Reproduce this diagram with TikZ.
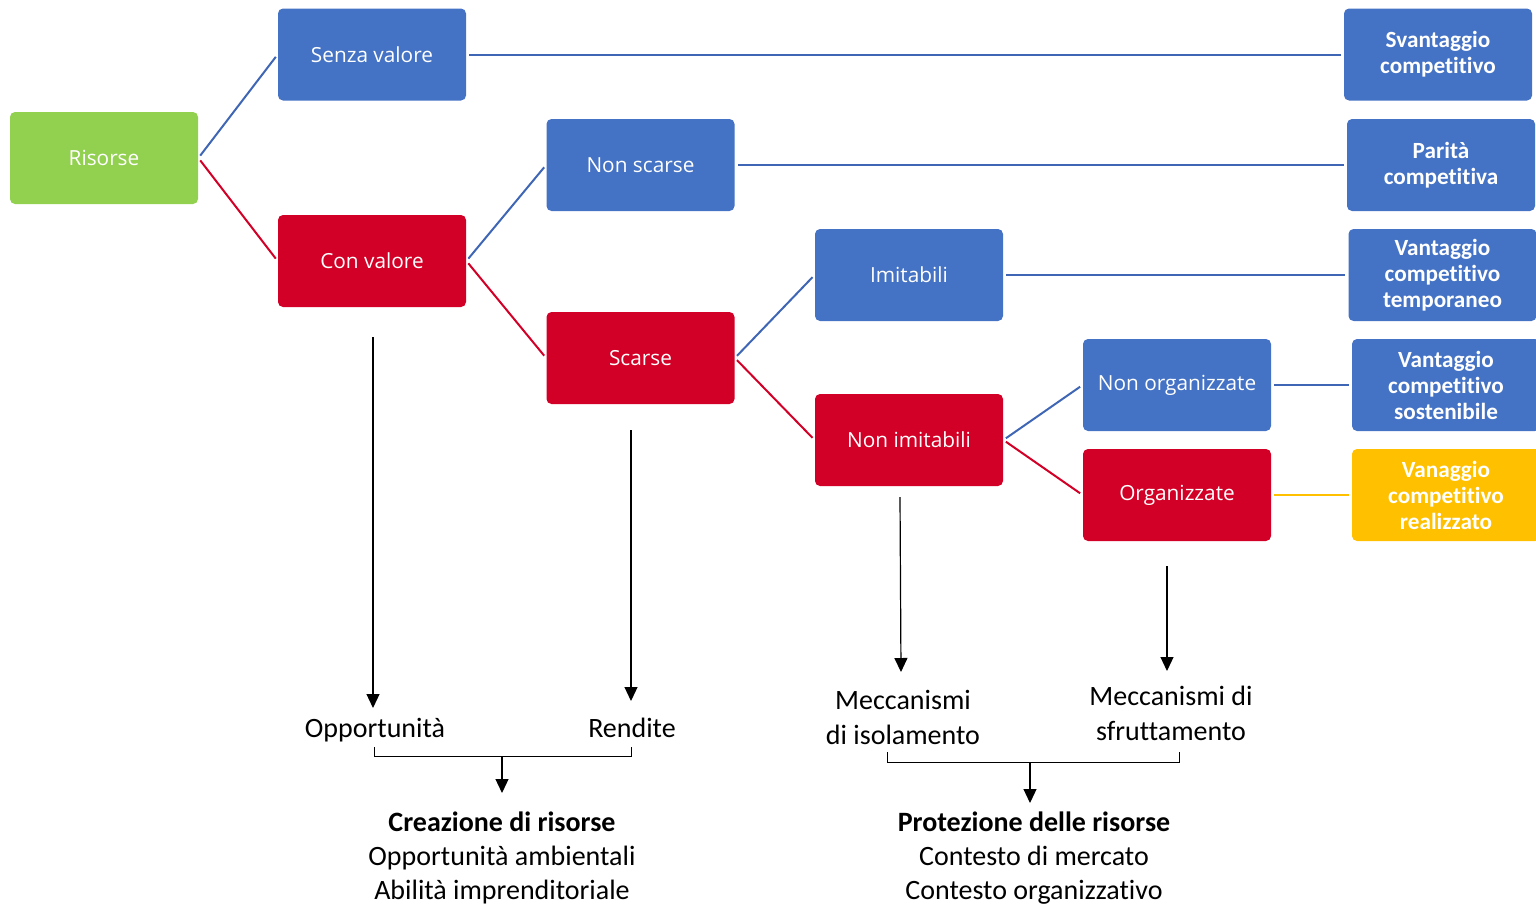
\documentclass[tikz,border=0pt]{standalone}
\usepackage{fontspec}
\setmainfont{Carlito}[Ligatures=NoCommon]
\newfontfamily\boxfont{Open Sans}
\usetikzlibrary{arrows.meta}
\definecolor{boxblue}{HTML}{4472C4}
\definecolor{boxred}{HTML}{D20026}
\definecolor{boxgreen}{HTML}{92D050}
\definecolor{boxyellow}{HTML}{FFC000}
\definecolor{lineblue}{HTML}{3F66B5}
\begin{document}
\begin{tikzpicture}[x=0.5pt,y=-0.5pt,
  stepbox/.style={rounded corners=2.5pt, minimum width=94pt, minimum height=46pt,
    inner sep=0pt, text=white, font=\boxfont\fontsize{10.4}{12}\selectfont},
  outbox/.style={rounded corners=2.5pt, minimum width=94pt, minimum height=46pt,
    inner sep=0pt, text=white, align=center, font=\bfseries\fontsize{11.6}{13}\selectfont},
  bluelink/.style={draw=lineblue, line width=1pt, shorten <=1.5pt, shorten >=1.5pt},
  redlink/.style={draw=boxred, line width=1pt, shorten <=1.5pt, shorten >=1.5pt},
  arr/.style={draw=black, line width=0.6pt, -{Triangle[length=7pt,width=6.5pt]}},
  brk/.style={draw=black, line width=0.5pt},
  lbl/.style={inner sep=0pt, align=center, font=\fontsize{14}{17.5}\selectfont},
  summary/.style={inner sep=0pt, align=center, font=\fontsize{14}{17}\selectfont}
]
\useasboundingbox (0,0) rectangle (1536,905);
\clip (0,0) rectangle (1536,905);

% decision boxes
\node[stepbox, fill=boxgreen] (ris) at (104,158) {Risorse};
\node[stepbox, fill=boxblue] (senza) at (372,54.5) {Senza valore};
\node[stepbox, fill=boxred] (con) at (372,261) {Con valore};
\node[stepbox, fill=boxblue] (nonscarse) at (640.5,165) {Non scarse};
\node[stepbox, fill=boxred] (scarse) at (640.5,358) {Scarse};
\node[stepbox, fill=boxblue] (imit) at (909,275) {Imitabili};
\node[stepbox, fill=boxred] (nonimit) at (909,440) {Non imitabili};
\node[stepbox, fill=boxblue] (nonorg) at (1177,385) {Non organizzate};
\node[stepbox, fill=boxred] (org) at (1177,495) {Organizzate};

% outcome boxes
\node[outbox, fill=boxblue] (svant) at (1438,54.5) {Svantaggio\\competitivo};
\node[outbox, fill=boxblue] (parita) at (1441,165) {Parità\\competitiva};
\node[outbox, fill=boxblue] (vtemp) at (1442.5,275) {Vantaggio\\competitivo\\temporaneo};
\node[outbox, fill=boxblue] (vsost) at (1446,385) {Vantaggio\\competitivo\\sostenibile};
\node[outbox, fill=boxyellow] (vreal) at (1446,495) {Vanaggio\\competitivo\\realizzato};

% tree branches
\draw[bluelink] (ris.east) -- (senza.west);
\draw[redlink] (ris.east) -- (con.west);
\draw[bluelink] (con.east) -- (nonscarse.west);
\draw[redlink] (con.east) -- (scarse.west);
\draw[bluelink] (scarse.east) -- (imit.west);
\draw[redlink] (scarse.east) -- (nonimit.west);
\draw[bluelink] (nonimit.east) -- (nonorg.west);
\draw[redlink] (nonimit.east) -- (org.west);

% links to outcomes
\draw[bluelink] (senza.east) -- (senza.east -| svant.west);
\draw[bluelink] (nonscarse.east) -- (nonscarse.east -| parita.west);
\draw[bluelink] (imit.east) -- (imit.east -| vtemp.west);
\draw[bluelink] (nonorg.east) -- (nonorg.east -| vsost.west);
\draw[draw=boxyellow, line width=0.6pt, shorten <=1.5pt, shorten >=1.5pt] (org.east) -- (org.east -| vreal.west);

% lower labels
\node[lbl] (opp) at (375,730) {Opportunità};
\node[lbl] (rend) at (632,728) {Rendite};
\node[lbl] (mi) at (903,717) {Meccanismi\\di isolamento};
\node[lbl] (ms) at (1171,713.5) {Meccanismi di\\sfruttamento};

\coordinate (conbelow) at (373,337);
\coordinate (scarsebelow) at (631,430);
\coordinate (nonimitbelow) at (900,497);
\coordinate (orgbelow) at (1167,566);
\coordinate (oppin) at (373,708);
\coordinate (rendin) at (631,701);
\coordinate (miin) at (901,672);
\coordinate (msin) at (1167,671);
\draw[arr] (conbelow) -- (oppin);
\draw[arr] (scarsebelow) -- (rendin);
\draw[arr] (nonimitbelow) -- (miin);
\draw[arr] (orgbelow) -- (msin);

% summaries
\node[summary] (crea) at (502,858) {\textbf{Creazione di risorse}\\Opportunità ambientali\\Abilità imprenditoriale};
\node[summary] (prot) at (1034,858) {\textbf{Protezione delle risorse}\\Contesto di mercato\\Contesto organizzativo};

% brackets
\coordinate (b1l) at (374,747);
\coordinate (b1r) at (631,747);
\coordinate (b1m) at (502,756);
\coordinate (b1t) at (502,793);
\draw[brk] (b1l) -- (374,756) -- (631,756) -- (b1r);
\draw[arr] (b1m) -- (b1t);

\coordinate (b2l) at (887,752);
\coordinate (b2r) at (1179,752);
\coordinate (b2m) at (1030,762);
\coordinate (b2t) at (1030,803);
\draw[brk] (b2l) -- (887,762) -- (1179,762) -- (b2r);
\draw[arr] (b2m) -- (b2t);
\end{tikzpicture}
\end{document}
